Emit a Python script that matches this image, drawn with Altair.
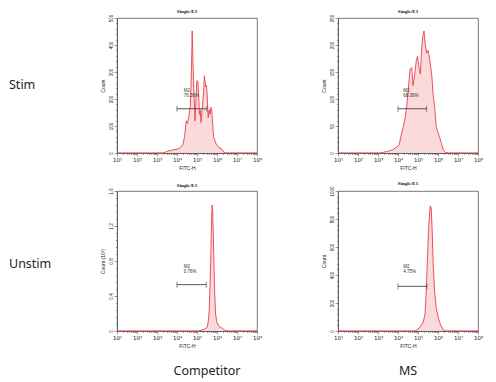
import altair as alt
import pandas as pd
import math

# ---------------- data (x = log10(FITC-H), y = count) ----------------
# Stim / Competitor
sc_exp = [1.0, 3.30, 3.47, 3.60, 3.72, 3.90, 4.05, 4.20, 4.29, 4.38, 4.46, 4.52, 4.57, 4.62, 4.67, 4.72, 4.76,
          4.80, 4.84, 4.90, 4.95, 4.99, 5.05, 5.09, 5.12, 5.16, 5.20, 5.24, 5.28, 5.33, 5.37, 5.43, 5.47, 5.50,
          5.56, 5.61, 5.65, 5.70, 5.74, 5.79, 5.83, 5.88, 5.94, 6.02, 6.11, 6.20, 6.27, 6.39, 8.0]
sc_cnt = [0, 0, 5, 8, 10, 13, 15, 22, 30, 60, 119, 110, 125, 150, 178, 300, 452,
          330, 238, 119, 200, 268, 264, 200, 143, 160, 113, 150, 178, 230, 286, 244, 250, 226,
          131, 160, 143, 170, 155, 100, 60, 50, 36, 28, 18, 16, 12, 0, 0]
# Stim / MS
sm_exp = [1.0, 3.10, 3.23, 3.48, 3.73, 3.94, 4.06, 4.14, 4.26, 4.36, 4.44, 4.52, 4.60, 4.69, 4.75, 4.83,
          4.92, 4.98, 5.05, 5.12, 5.17, 5.23, 5.30, 5.36, 5.43, 5.50, 5.56, 5.63, 5.69, 5.76, 5.84, 5.91,
          5.99, 6.07, 6.17, 6.26, 6.37, 6.54, 8.0]
sm_cnt = [0, 0, 1, 3, 6, 11, 15, 30, 48, 65, 89, 119, 155, 158, 125, 143,
          173, 179, 158, 146, 185, 214, 226, 202, 185, 190, 179, 161, 143, 107, 83, 48,
          39, 30, 18, 6, 1, 0, 0]
# Unstim / Competitor (count in 10^3)
uc_exp = [1.0, 5.10, 5.20, 5.36, 5.50, 5.56, 5.61, 5.66, 5.70, 5.73, 5.76, 5.79, 5.83, 5.88, 5.93, 5.99,
          6.11, 6.27, 6.39, 6.52, 8.0]
uc_cnt = [0, 0, 0.008, 0.02, 0.04, 0.10, 0.23, 0.57, 0.95, 1.30, 1.44, 1.33, 0.95, 0.46, 0.19, 0.10,
          0.05, 0.03, 0.008, 0, 0]
# Unstim / MS
um_exp = [1.0, 4.70, 4.88, 5.08, 5.25, 5.35, 5.41, 5.48, 5.55, 5.61, 5.66, 5.71, 5.76, 5.83, 5.91, 6.01,
          6.12, 6.24, 6.37, 8.0]
um_cnt = [0, 0, 2, 24, 60, 119, 286, 548, 786, 893, 881, 714, 476, 286, 167, 95,
          48, 12, 0, 0]

# M2 gate: [start exp, end exp, y level, percentage, text x, text y (M2), text y (pct)]
gates = {
    "sc": (4.0, 5.50, 164, "76.56%", 4.34, 229, 210),
    "sm": (4.0, 5.43, 82, "68.36%", 4.26, 115, 105),
    "uc": (4.0, 5.46, 0.53, "0.76%", 4.34, 0.73, 0.67),
    "um": (4.0, 5.45, 319, "4.75%", 4.26, 458, 421),
}
y_max = {"sc": 500, "sm": 250, "uc": 1.6, "um": 1000}
y_step = {"sc": 100, "sm": 50, "uc": 0.4, "um": 200}
y_titles = {"sc": "Count", "sm": "Count", "uc": "Count (10\u00b3)", "um": "Count"}

row_labels = ["Stim", "Unstim"]
col_labels = ["Competitor", "MS"]
panel_title = "Single/E1"

FILL = "#f9d3d5"
LINE = "#e8414b"
FRAME = "#555555"
SMALL = "Liberation Sans"

W = 140
H_TOP, H_BOT = 135, 140


def x_axis():
    vals = []
    for d in range(1, 8):
        vals.append(float(d))
        for k in range(2, 10):
            vals.append(d + math.log10(k))
    vals.append(8.0)
    maj = "abs(datum.value - round(datum.value)) < 0.001"
    return alt.Axis(
        values=vals, title="FITC-H", titleFontSize=5, titleFont=SMALL, titleFontWeight="normal",
        titlePadding=3, titleColor="#222",
        labelExpr=f"{maj} ? '10' + ['\u2070','\u00b9','\u00b2','\u00b3','\u2074','\u2075','\u2076','\u2077','\u2078'][round(datum.value)] : ''",
        labelFontSize=5.5, labelFont="DejaVu Sans", labelColor="#222", labelPadding=1, labelFlush=False,
        labelOverlap=False,
        tickSize={"condition": {"test": maj, "value": 3}, "value": 1.5},
        tickColor=FRAME, domainColor=FRAME, domainWidth=0.8, tickWidth=0.6, grid=False,
    )


def y_axis(key):
    step = y_step[key]
    n = round(y_max[key] / step)
    vals = [round(i * step / 5, 6) for i in range(5 * n + 1)]
    maj = f"abs(datum.value / {step} - round(datum.value / {step})) < 0.001"
    return alt.Axis(
        values=vals, title=y_titles[key], titleFontSize=5, titleFont=SMALL, titleFontWeight="normal",
        titlePadding=3, titleColor="#222",
        labelExpr=f"{maj} ? format(datum.value, '~g') : ''",
        labelAngle=270, labelAlign="center", labelBaseline="bottom",
        labelFontSize=4.5, labelFont=SMALL, labelColor="#222", labelPadding=1, labelFlush=False,
        labelOverlap=False,
        tickSize={"condition": {"test": maj, "value": 3}, "value": 1.5},
        tickColor=FRAME, domainColor=FRAME, domainWidth=0.8, tickWidth=0.6, grid=False,
    )


def panel(key, exp, cnt, h, extra=None):
    xs = alt.Scale(domain=[1, 8], nice=False)
    ys = alt.Scale(domain=[0, y_max[key]], nice=False)
    xa, ya = x_axis(), y_axis(key)
    df = pd.DataFrame({"x": exp, "y": cnt})
    area = alt.Chart(df).mark_area(
        color=FILL, opacity=0.85, line={"color": LINE, "strokeWidth": 0.9}, interpolate="linear"
    ).encode(x=alt.X("x:Q", scale=xs, axis=xa), y=alt.Y("y:Q", scale=ys, axis=ya))

    lo, hi, gy, pct, tx, ty1, ty2 = gates[key]
    gdf = pd.DataFrame({"x": [lo], "x2": [hi], "y": [gy]})
    rule = alt.Chart(gdf).mark_rule(color="#444", strokeWidth=0.9).encode(
        x=alt.X("x:Q", scale=xs, axis=xa), x2="x2:Q", y=alt.Y("y:Q", scale=ys, axis=ya))
    cdf = pd.DataFrame({"x": [lo, hi], "y": [gy, gy]})
    caps = alt.Chart(cdf).mark_tick(color="#444", orient="vertical", size=6, thickness=0.9).encode(
        x=alt.X("x:Q", scale=xs, axis=xa), y=alt.Y("y:Q", scale=ys, axis=ya))
    tdf = pd.DataFrame({"x": [tx, tx], "y": [ty1, ty2], "t": ["M2", pct]})
    txt = alt.Chart(tdf).mark_text(align="left", baseline="middle", fontSize=4.5, font=SMALL,
                                   color="#333").encode(
        x=alt.X("x:Q", scale=xs, axis=xa), y=alt.Y("y:Q", scale=ys, axis=ya), text="t:N")
    layers = [area, rule, caps, txt]
    if extra:
        layers += extra
    return alt.layer(*layers).properties(
        width=W, height=h,
        title=alt.TitleParams(panel_title, fontSize=5, font="Liberation Serif", fontWeight="bold",
                              offset=0, color="#111"),
    )


def label(text, x, y, align="left"):
    return alt.Chart(pd.DataFrame({"t": [text]})).mark_text(
        align=align, baseline="middle", fontSize=12.5, font="Noto Sans", color="#222"
    ).encode(x=alt.value(x), y=alt.value(y), text="t:N")


p1 = panel("sc", sc_exp, sc_cnt, H_TOP, [label(row_labels[0], -108, 67)])
p2 = panel("sm", sm_exp, sm_cnt, H_TOP)
p3 = panel("uc", uc_exp, uc_cnt, H_BOT,
           [label(row_labels[1], -108, 73), label(col_labels[0], 90, 180, "center")])
p4 = panel("um", um_exp, um_cnt, H_BOT, [label(col_labels[1], 70, 180, "center")])

chart = alt.vconcat(
    alt.hconcat(p1, p2, spacing=57),
    alt.hconcat(p3, p4, spacing=57),
    spacing=9,
).properties(padding=0).configure_view(stroke=FRAME, strokeWidth=0.8)

chart.save("out.html", embed_options={"renderer": "svg", "actions": False})
